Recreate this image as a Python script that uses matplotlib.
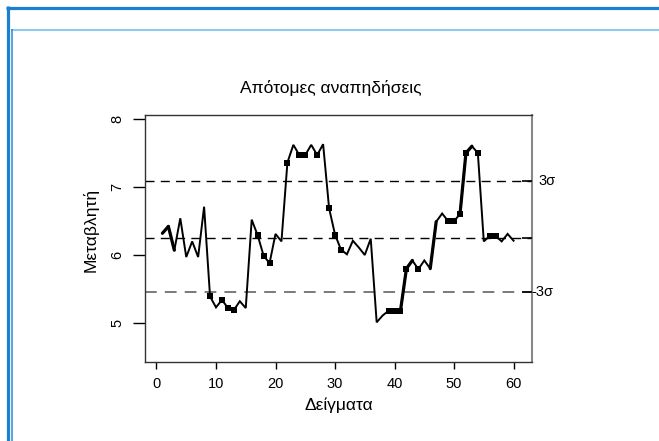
import matplotlib
matplotlib.use("Agg")
import matplotlib.pyplot as plt
from matplotlib.lines import Line2D
import numpy as np

plt.rcParams['font.family'] = ['Liberation Sans', 'DejaVu Sans']

# Sample values
samples = list(range(1, 61))
values = [
    6.32, 6.42, 6.07, 6.54, 5.97, 6.20, 5.97, 6.71, 5.39, 5.23,
    5.34, 5.22, 5.19, 5.32, 5.22, 6.52, 6.29, 5.99, 5.88, 6.31,
    6.20, 7.36, 7.62, 7.47, 7.47, 7.62, 7.47, 7.63, 6.69, 6.30,
    6.08, 6.01, 6.21, 6.11, 6.00, 6.24, 5.01, 5.11, 5.18, 5.18,
    5.18, 5.80, 5.92, 5.79, 5.92, 5.80, 6.49, 6.61, 6.50, 6.50,
    6.60, 7.50, 7.60, 7.50, 6.20, 6.28, 6.28, 6.20, 6.31, 6.21,
]
# Samples flagged by the run rules
flagged = [9, 11, 12, 13, 17, 18, 19, 22, 24, 25, 27, 29, 30, 31,
           39, 40, 41, 42, 44, 49, 50, 51, 52, 54, 56, 57]
# Segments (start sample) drawn heavier
heavy = [1, 2, 40, 41, 42, 46, 51, 52]

# Control limits
ucl, center, lcl = 7.093, 6.246, 5.461
limit_labels = ["3σ", "", "-3σ"]

x_ticks = [0, 10, 20, 30, 40, 50, 60]
y_ticks = [5, 6, 7, 8]

W, H = 659, 441
fig = plt.figure(figsize=(W / 100, H / 100), dpi=100)
fig.patch.set_facecolor('white')

# page frame
def fline(x0, y0, x1, y1, color, lw):
    fig.add_artist(Line2D([x0 / W, x1 / W], [1 - y0 / H, 1 - y1 / H],
                          transform=fig.transFigure, color=color, lw=lw,
                          solid_capstyle='butt'))

fline(6, 7.5, W, 7.5, '#1a80d2', 2.3)
fline(7.5, 6, 7.5, H, '#1a80d2', 2.3)
fline(11, 30, W, 30, '#8fcaee', 1.5)
fline(11.5, 29, 11.5, H, '#2b8ad6', 1.1)

L, R, T, B = 145, 532, 114.5, 362
ax = fig.add_axes([L / W, 1 - B / H, (R - L) / W, (B - T) / H])
ax.set_xlim(-1.93, 63.1)
ax.set_ylim(8 - (B - 119) / 68.0, 8 + (119 - T) / 68.0)

for s in ax.spines.values():
    s.set_color('#333333')
    s.set_linewidth(1.0)

# control lines
ax.axhline(ucl, color='black', lw=1.0, dashes=(6.5, 4.5))
ax.axhline(center, color='black', lw=1.0, dashes=(6.5, 4.5))
ax.axhline(lcl, color='#707070', lw=1.3, dashes=(6.5, 4.5))

x = np.array(samples)
y = np.array(values)
ax.plot(x, y, color='black', lw=1.4, solid_joinstyle='miter')
for h in heavy:
    i = h - 1
    ax.plot(x[i:i + 2], y[i:i + 2], color='black', lw=2.3,
            solid_capstyle='round')
fi = np.array(flagged) - 1
ax.plot(x[fi], y[fi], 's', color='black', ms=4.0, mew=0)

# axes ticks
ax.set_xticks(x_ticks)
ax.set_xticklabels([str(v) for v in x_ticks], fontsize=10.5)
ax.set_yticks(y_ticks)
ax.set_yticklabels([str(v) for v in y_ticks], fontsize=10.5, rotation=90,
                   va='center')
ax.tick_params(axis='x', direction='out', length=5, width=1, pad=6)
ax.tick_params(axis='y', direction='out', length=8.6, width=1, pad=6)

# right axis with control limit ticks
ax2 = ax.twinx()
ax2.set_ylim(ax.get_ylim())
ax2.set_yticks([ucl, center, lcl])
ax2.set_yticklabels([])
ax2.tick_params(axis='y', direction='in', length=7, width=1.2)
tick_cols = ['#808080', 'black', '#808080']
for t, c in zip(ax2.yaxis.get_major_ticks(), tick_cols):
    t.tick2line.set_color(c)
for s in ax2.spines.values():
    s.set_visible(False)
ax.spines['right'].set_color('#888888')
ax.spines['right'].set_linewidth(1.5)

offsets = [24, 0, 21]
for lv, lab, off in zip([ucl, center, lcl], limit_labels, offsets):
    if lab:
        ax.annotate(lab, xy=(1, lv), xycoords=('axes fraction', 'data'),
                    xytext=(off * 0.72, 0), textcoords='offset points',
                    ha='right', va='center', fontsize=10.5)

# titles
fig.text(331 / W, 1 - 88 / H, "Απότομες αναπηδήσεις", ha='center',
         va='center', fontsize=12.5)
fig.text(339 / W, 1 - 405 / H, "Δείγματα", ha='center', va='center',
         fontsize=12.5)
fig.text(91 / W, 1 - 230 / H, "Μεταβλητή", ha='center', va='center',
         rotation=90, fontsize=12.5)

fig.savefig('out.png', dpi=100)
